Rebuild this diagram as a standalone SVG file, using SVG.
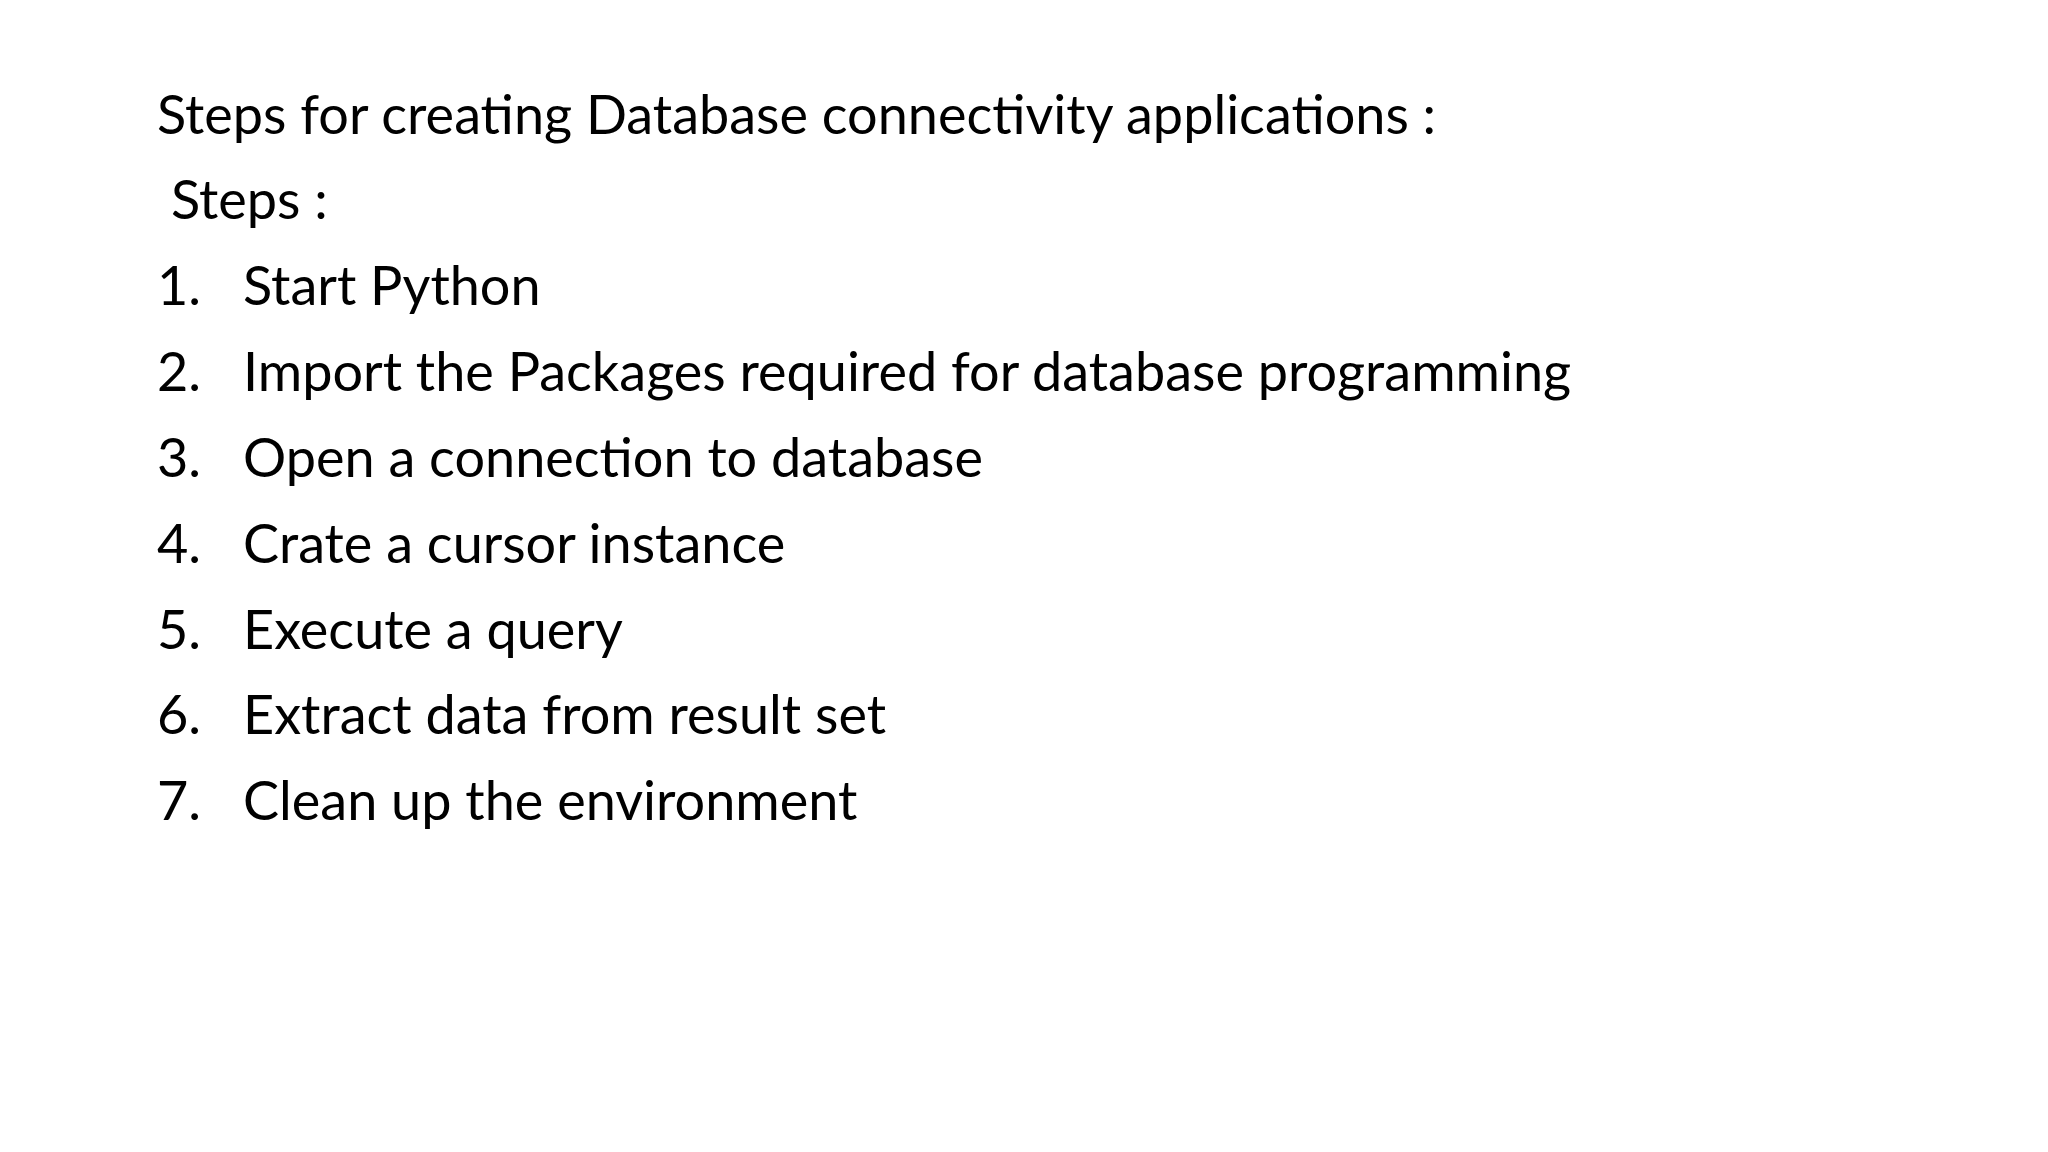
<svg xmlns="http://www.w3.org/2000/svg" width="2048" height="1152" viewBox="0 0 2048 1152">
<style>text{font-family:Lato,"Open Sans",sans-serif;font-size:54px;fill:#000}</style>
<rect width="2048" height="1152" fill="#fff"/>
<g id="title"><text x="157" y="134">Steps for creating Database connectivity applications :</text>
<text x="171" y="219">Steps :</text></g>
<g id="list">
<text x="157" y="305">1.</text><text x="243" y="305">Start Python</text>
<text x="157" y="391">2.</text><text x="243" y="391">Import the Packages required for database programming</text>
<text x="157" y="477">3.</text><text x="243" y="477">Open a connection to database</text>
<text x="157" y="563">4.</text><text x="243" y="563">Crate a cursor instance</text>
<text x="157" y="649">5.</text><text x="243" y="649">Execute a query</text>
<text x="157" y="734">6.</text><text x="243" y="734">Extract data from result set</text>
<text x="157" y="820">7.</text><text x="243" y="820">Clean up the environment</text>
</g>
</svg>
